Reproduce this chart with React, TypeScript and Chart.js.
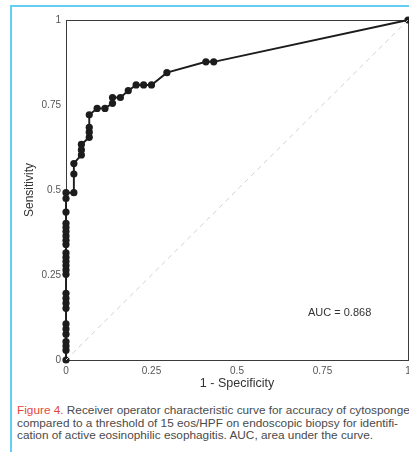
import React, { useEffect, useRef } from "react";
import { Chart, registerables } from "chart.js";

Chart.register(...registerables);

// ROC curve points (1 - specificity, sensitivity), in drawing order
const fpr = [
  0, 0, 0, 0, 0, 0, 0, 0, 0, 0, 0, 0, 0, 0, 0, 0, 0, 0, 0, 0, 0, 0, 0, 0, 0, 0,
  0.023, 0.023, 0.023,
  0.045, 0.045, 0.045,
  0.068, 0.068, 0.068, 0.068,
  0.091, 0.114,
  0.136, 0.136, 0.159,
  0.182,
  0.205, 0.227, 0.25,
  0.295,
  0.409, 0.432,
  1,
];
const tpr = [
  0, 0.029, 0.041, 0.054, 0.076, 0.091, 0.106, 0.152, 0.167, 0.181, 0.196,
  0.252, 0.265, 0.278, 0.29, 0.302, 0.315,
  0.34, 0.352, 0.365, 0.378, 0.39, 0.402,
  0.435, 0.475, 0.492,
  0.492, 0.547, 0.578,
  0.603, 0.618, 0.634,
  0.655, 0.67, 0.684, 0.721,
  0.74, 0.74,
  0.755, 0.772, 0.772,
  0.792,
  0.809, 0.809, 0.809,
  0.845,
  0.877, 0.877,
  1,
];

// Chance (reference) diagonal
const diagX = [0, 1];
const diagY = [0, 1];

const tickValues = [0, 0.25, 0.5, 0.75, 1];
const tickLabels = ["0", "0.25", "0.5", "0.75", "1"];

const xTitle = "1 - Specificity";
const yTitle = "Sensitivity";
const aucText = "AUC = 0.868";
const aucPos = [0.8, 0.138];

const captionLines = [
  ["Figure 4.", " Receiver operator characteristic curve for accuracy of cytosponge"],
  ["", "compared to a threshold of 15 eos/HPF on endoscopic biopsy for identifi-"],
  ["", "cation of active eosinophilic esophagitis. AUC, area under the curve."],
];

const FONT = "'Liberation Sans', Arial, Helvetica, sans-serif";

export default function App() {
  const ref = useRef<HTMLCanvasElement | null>(null);

  useEffect(() => {
    const canvas = ref.current;
    if (!canvas) return;

    const boxPlugin = {
      id: "boxAndLabel",
      beforeDatasetsDraw(chart: any) {
        const { ctx, chartArea } = chart;
        ctx.save();
        ctx.strokeStyle = "#3a3a3a";
        ctx.lineWidth = 1;
        ctx.strokeRect(
          Math.round(chartArea.left) + 0.5,
          Math.round(chartArea.top) + 0.5,
          Math.round(chartArea.right - chartArea.left),
          Math.round(chartArea.bottom - chartArea.top)
        );
        ctx.restore();
      },
      afterDatasetsDraw(chart: any) {
        const { ctx, scales } = chart;
        ctx.save();
        ctx.fillStyle = "#333333";
        ctx.font = `11px ${FONT}`;
        ctx.textAlign = "center";
        ctx.textBaseline = "middle";
        ctx.fillText(
          aucText,
          scales.x.getPixelForValue(aucPos[0]),
          scales.y.getPixelForValue(aucPos[1])
        );
        ctx.restore();
      },
    };

    const setTicks = (s: any) => {
      s.ticks = tickValues.map((v) => ({ value: v }));
    };
    const fmt = (v: any) => {
      const i = tickValues.indexOf(Number(v));
      return i >= 0 ? tickLabels[i] : "";
    };

    const chart = new Chart(canvas, {
      type: "scatter",
      data: {
        datasets: [
          {
            data: diagX.map((x, i) => ({ x, y: diagY[i] })),
            showLine: true,
            borderColor: "#d2d2d2",
            borderDash: [5, 4],
            borderWidth: 1,
            pointRadius: 0,
          },
          {
            data: fpr.map((x, i) => ({ x, y: tpr[i] })),
            showLine: true,
            clip: false,
            borderColor: "#1c1c1c",
            borderWidth: 1.9,
            pointRadius: 3.6,
            pointBackgroundColor: "#1c1c1c",
            pointBorderWidth: 0,
          },
        ],
      },
      options: {
        animation: false,
        responsive: false,
        layout: { padding: { top: 20, right: 12, left: 0, bottom: 0 } },
        plugins: { legend: { display: false }, tooltip: { enabled: false } },
        scales: {
          x: {
            type: "linear",
            min: 0,
            max: 1,
            afterBuildTicks: setTicks,
            afterFit: (s: any) => {
              s.height = 38;
            },
            grid: { display: false, drawTicks: false },
            border: { display: false },
            ticks: {
              callback: fmt,
              color: "#555555",
              font: { family: FONT, size: 10 },
              padding: 5,
              maxRotation: 0,
              autoSkip: false,
            },
            title: {
              display: true,
              text: xTitle,
              color: "#333333",
              font: { family: FONT, size: 12.5 },
              padding: { top: 0, bottom: 6.5 },
            },
          },
          y: {
            type: "linear",
            min: 0,
            max: 1,
            afterBuildTicks: setTicks,
            afterFit: (s: any) => {
              s.width = 66;
            },
            grid: { display: false, drawTicks: false },
            border: { display: false },
            ticks: {
              callback: fmt,
              color: "#555555",
              font: { family: FONT, size: 10 },
              padding: 5,
              autoSkip: false,
            },
            title: {
              display: true,
              text: yTitle,
              color: "#333333",
              font: { family: FONT, size: 12 },
              padding: { top: 22, bottom: 0 },
            },
          },
        },
      },
      plugins: [boxPlugin],
    } as any);

    return () => chart.destroy();
  }, []);

  return (
    <div
      style={{
        position: "fixed",
        left: 0,
        top: 0,
        width: 409,
        height: 452,
        overflow: "hidden",
        background: "#ffffff",
      }}
    >
      <div
        style={{
          position: "absolute",
          left: 10,
          top: 5,
          width: 600,
          height: 600,
          borderTop: "2px solid #63cdf4",
          borderLeft: "2px solid #63cdf4",
        }}
      />
      <canvas
        ref={ref}
        width={420}
        height={398}
        style={{ position: "absolute", left: 0, top: 0, width: 420, height: 398 }}
      />
      <div
        style={{
          position: "absolute",
          left: 17,
          top: 404,
          fontFamily: FONT,
          fontSize: 11.8,
          lineHeight: "12.6px",
          color: "#4a4a4a",
          whiteSpace: "nowrap",
        }}
      >
        {captionLines.map((ln, i) => (
          <div key={i}>
            {ln[0] ? <span style={{ color: "#e4473d" }}>{ln[0]}</span> : null}
            {ln[1]}
          </div>
        ))}
      </div>
    </div>
  );
}
